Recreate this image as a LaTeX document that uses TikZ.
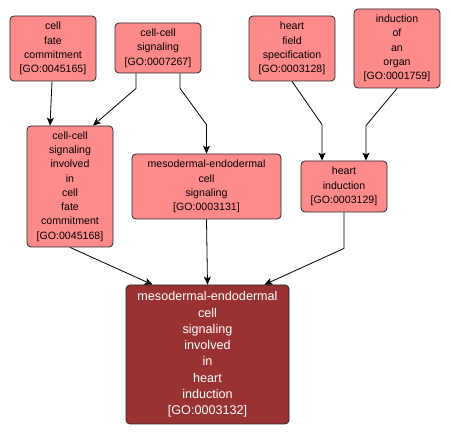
\documentclass[tikz,border=0pt]{standalone}
\usepackage{fontspec}
\setmainfont{Liberation Sans}
\usetikzlibrary{arrows.meta}
\definecolor{gofill}{HTML}{FF8A8A}
\definecolor{gomain}{HTML}{9A3232}
\begin{document}
\begin{tikzpicture}[x=1pt,y=-1pt,
  gonode/.style={draw=black!85, fill=gofill, rounded corners=4pt, align=center,
    inner sep=0pt, line width=0.8pt, font=\fontsize{10.6}{14.3}\selectfont},
  mainnode/.style={gonode, fill=gomain, text=white, font=\fontsize{12.6}{16.3}\selectfont},
  link/.style={draw=black, line width=0.8pt, -{Stealth[length=8pt,width=7pt,inset=2pt]}}]
\useasboundingbox (0,0) rectangle (451,436);
\fill[white] (0,0) rectangle (451,436);

\node[gonode, minimum width=86pt, minimum height=65pt] (n1) at (53,48.5)
  {cell\\fate\\commitment\\{[GO:0045165]}};
\node[gonode, minimum width=86pt, minimum height=50pt] (n2) at (158,48)
  {cell-cell\\signaling\\{[GO:0007267]}};
\node[gonode, minimum width=86pt, minimum height=65pt] (n3) at (292,48.5)
  {heart\\field\\specification\\{[GO:0003128]}};
\node[gonode, minimum width=86pt, minimum height=79pt] (n4) at (397,48.5)
  {induction\\of\\an\\organ\\{[GO:0001759]}};
\node[gonode, minimum width=86pt, minimum height=121pt] (n5) at (70,186.5)
  {cell-cell\\signaling\\involved\\in\\cell\\fate\\commitment\\{[GO:0045168]}};
\node[gonode, minimum width=149pt, minimum height=65pt] (n6) at (206.5,186.5)
  {mesodermal-endodermal\\cell\\signaling\\{[GO:0003131]}};
\node[gonode, minimum width=86pt, minimum height=51pt] (n7) at (344,186.5)
  {heart\\induction\\{[GO:0003129]}};
\node[mainnode, minimum width=163pt, minimum height=139pt] (n8) at (207.5,354.5)
  {mesodermal-endodermal\\cell\\signaling\\involved\\in\\heart\\induction\\{[GO:0003132]}};

\draw[link] ([xshift=-1pt]n1.south) -- ([xshift=-20pt]n5.north);
\draw[link] ([xshift=-22pt]n2.south) -- ++(0,15) -- ([xshift=23pt]n5.north);
\draw[link] ([xshift=22pt]n2.south) -- ++(0,15) -- ([yshift=29pt]n6.north) -- (n6.north);
\draw[link] (n3.south) -- ([xshift=-22pt,yshift=36pt]n7.north) -- ([xshift=-22pt]n7.north);
\draw[link] (n4.south) -- ([xshift=22pt,yshift=35pt]n7.north) -- ([xshift=22pt]n7.north);
\draw[link] (n5.south) -- ([xshift=-55pt]n8.north);
\draw[link] (n6.south) -- (n8.north);
\draw[link] (n7.south) -- ++(0,36) -- ([xshift=57pt]n8.north);
\end{tikzpicture}
\end{document}
